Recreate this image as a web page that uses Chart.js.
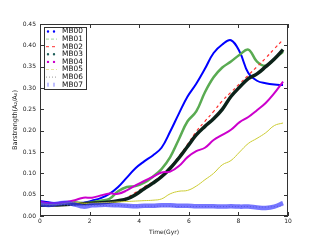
<!DOCTYPE html>
<html lang="en">
<head>
  <meta charset="UTF-8" />
  <title>Barstrength</title>
  <script src="https://cdn.jsdelivr.net/npm/chart.js"></script>
  <style>
    html, body { margin: 0; padding: 0; background: #fff; }
    #wrap { width: 320px; height: 240px; }
  </style>
</head>
<body>
  <div id="wrap"><canvas id="barChart" width="320" height="240"></canvas></div>

  <script>
    const time = [0, 0.35, 0.7, 1.05, 1.4, 1.75, 2.1, 2.45, 2.8, 3.15, 3.5, 3.85, 4.2, 4.55, 4.9,
                  5.25, 5.6, 5.95, 6.3, 6.65, 7.0, 7.35, 7.7, 8.05, 8.4, 8.75, 9.1, 9.45, 9.8];

    const mb00 = [0.035, 0.032, 0.030, 0.033, 0.030, 0.031, 0.036, 0.042, 0.052, 0.068, 0.090, 0.112, 0.128, 0.142, 0.160,
                  0.198, 0.240, 0.280, 0.310, 0.345, 0.382, 0.402, 0.412, 0.385, 0.335, 0.317, 0.311, 0.308, 0.307];
    const mb01 = [0.025, 0.026, 0.028, 0.030, 0.032, 0.030, 0.032, 0.036, 0.040, 0.058, 0.068, 0.070, 0.078, 0.092, 0.110,
                  0.138, 0.180, 0.222, 0.245, 0.290, 0.325, 0.348, 0.362, 0.378, 0.390, 0.362, 0.352, 0.368, 0.385];
    const mb02 = [0.025, 0.026, 0.027, 0.028, 0.027, 0.028, 0.029, 0.030, 0.032, 0.036, 0.043, 0.055, 0.068, 0.080, 0.095,
                  0.115, 0.140, 0.168, 0.198, 0.222, 0.245, 0.270, 0.290, 0.310, 0.330, 0.350, 0.370, 0.392, 0.413];
    const mb03 = [0.025, 0.025, 0.026, 0.027, 0.028, 0.029, 0.030, 0.031, 0.033, 0.036, 0.040, 0.050, 0.064, 0.077, 0.092,
                  0.112, 0.136, 0.163, 0.190, 0.210, 0.228, 0.250, 0.280, 0.302, 0.322, 0.333, 0.350, 0.368, 0.390];
    const mb04 = [0.033, 0.030, 0.030, 0.033, 0.037, 0.043, 0.043, 0.048, 0.053, 0.052, 0.060, 0.072, 0.082, 0.092, 0.102,
                  0.104, 0.117, 0.138, 0.152, 0.160, 0.178, 0.190, 0.202, 0.220, 0.232, 0.248, 0.265, 0.288, 0.315];
    const mb05 = [0.028, 0.027, 0.027, 0.030, 0.032, 0.030, 0.030, 0.031, 0.032, 0.033, 0.034, 0.035, 0.036, 0.037, 0.040,
                  0.052, 0.058, 0.060, 0.070, 0.085, 0.100, 0.120, 0.130, 0.150, 0.170, 0.182, 0.195, 0.212, 0.218];
    const mb06 = [0.027, 0.026, 0.027, 0.026, 0.025, 0.024, 0.025, 0.025, 0.024, 0.024, 0.024, 0.023, 0.023, 0.023, 0.023,
                  0.023, 0.022, 0.022, 0.022, 0.022, 0.022, 0.022, 0.022, 0.022, 0.022, 0.021, 0.021, 0.022, 0.024];
    const mb07 = [0.028, 0.026, 0.029, 0.031, 0.027, 0.022, 0.025, 0.026, 0.026, 0.025, 0.024, 0.023, 0.024, 0.024, 0.025,
                  0.025, 0.024, 0.024, 0.023, 0.023, 0.023, 0.022, 0.023, 0.022, 0.022, 0.020, 0.019, 0.022, 0.030];

    const xTicks = [0, 2, 4, 6, 8, 10];
    const yTicks = [0, 0.05, 0.1, 0.15, 0.2, 0.25, 0.3, 0.35, 0.4, 0.45];

    const FONT = 'DejaVu Sans';

    function pts(ys) {
      return ys.map((y, i) => ({ x: time[i], y }));
    }

    // legend samples: 'dots' = two markers, 'bars' = two ticks, otherwise a short line
    const datasets = [
      { label: 'MB00', data: pts(mb00), borderColor: '#0000ff', borderWidth: 2, order: 7, sample: 'dots' },
      { label: 'MB01', data: pts(mb01), borderColor: '#5aab52', borderWidth: 2.5, order: 6, sample: 'dash', sampleColor: '#9fd49a' },
      { label: 'MB02', data: pts(mb02), borderColor: '#ff3030', borderWidth: 1.2, order: 5, borderDash: [3, 3], sample: 'dash' },
      { label: 'MB03', data: pts(mb03), borderColor: '#0c2219', borderWidth: 3.5, order: 4, sample: 'dots', sampleColor: '#1f5f5a' },
      { label: 'MB04', data: pts(mb04), borderColor: '#cc00cc', borderWidth: 2, order: 3, sample: 'dots' },
      { label: 'MB05', data: pts(mb05), borderColor: '#cccc33', borderWidth: 1, order: 2, sample: 'dash', sampleColor: '#e6e6a0' },
      { label: 'MB06', data: pts(mb06), borderColor: '#999999', borderWidth: 1, order: 1, borderDash: [1, 2], sample: 'dash' },
      { label: 'MB07', data: pts(mb07), borderColor: 'rgba(60,60,255,0.7)', borderWidth: 4.5, order: 0, sample: 'bars', sampleColor: '#8080ff' }
    ];

    const frame = {
      id: 'frame',
      afterDraw(chart) {
        const { ctx, chartArea: a, scales } = chart;
        ctx.save();
        ctx.strokeStyle = '#333';
        ctx.lineWidth = 1;
        ctx.strokeRect(a.left + 0.5, a.top + 0.5, a.right - a.left - 1, a.bottom - a.top - 1);
        ctx.beginPath();
        xTicks.forEach(v => {
          const x = Math.round(scales.x.getPixelForValue(v)) + 0.5;
          ctx.moveTo(x, a.bottom); ctx.lineTo(x, a.bottom - 4);
          ctx.moveTo(x, a.top); ctx.lineTo(x, a.top + 4);
        });
        yTicks.forEach(v => {
          const y = Math.round(scales.y.getPixelForValue(v)) + 0.5;
          ctx.moveTo(a.left, y); ctx.lineTo(a.left + 4, y);
          ctx.moveTo(a.right, y); ctx.lineTo(a.right - 4, y);
        });
        ctx.stroke();

        // legend box, top-left inside the axes
        const bx = 44, by = 27, bw = 42, bh = 62, row = 7.6;
        ctx.fillStyle = '#fff';
        ctx.fillRect(bx, by, bw, bh);
        ctx.strokeStyle = '#333';
        ctx.strokeRect(bx + 0.5, by + 0.5, bw, bh);
        ctx.font = '7.4px "' + FONT + '"';
        ctx.textBaseline = 'middle';
        datasets.forEach((d, i) => {
          const y = by + 4.5 + i * row;
          const col = d.sampleColor || d.borderColor;
          ctx.fillStyle = col;
          ctx.strokeStyle = col;
          if (d.sample === 'dots') {
            ctx.beginPath(); ctx.arc(48, y, 1.2, 0, Math.PI * 2); ctx.arc(54, y, 1.2, 0, Math.PI * 2); ctx.fill();
          } else if (d.sample === 'bars') {
            ctx.fillRect(47.5, y - 2, 1, 4); ctx.fillRect(53.5, y - 2, 1, 4);
          } else {
            ctx.lineWidth = 1;
            ctx.setLineDash(d.borderDash && d.borderDash.length ? d.borderDash : [3, 2]);
            ctx.beginPath(); ctx.moveTo(46, y); ctx.lineTo(57, y); ctx.stroke();
            ctx.setLineDash([]);
          }
          ctx.fillStyle = '#111';
          ctx.fillText(d.label, 62, y);
        });
        ctx.restore();
      }
    };

    new Chart(document.getElementById('barChart'), {
      type: 'line',
      data: { datasets },
      options: {
        responsive: false,
        animation: false,
        layout: { padding: { top: 24, right: 32, left: 0, bottom: 0 } },
        elements: { point: { radius: 0 }, line: { tension: 0.4, fill: false } },
        plugins: { legend: { display: false }, tooltip: { enabled: false } },
        scales: {
          x: {
            type: 'linear', min: 0, max: 10,
            afterBuildTicks: s => { s.ticks = xTicks.map(v => ({ value: v })); },
            afterFit: s => { s.height = 24; },
            grid: { display: false, drawTicks: false },
            border: { display: false },
            ticks: { padding: 2, color: '#222', font: { family: FONT, size: 6 }, maxRotation: 0 },
            title: { display: true, text: 'Time(Gyr)', color: '#222', font: { family: FONT, size: 6 }, padding: { top: 0, bottom: 4 } }
          },
          y: {
            type: 'linear', min: 0, max: 0.45,
            afterBuildTicks: s => { s.ticks = yTicks.map(v => ({ value: v })); },
            afterFit: s => { s.width = 40; },
            grid: { display: false, drawTicks: false },
            border: { display: false },
            ticks: { padding: 4, color: '#222', font: { family: FONT, size: 6 }, callback: v => v.toFixed(2) },
            title: { display: true, text: 'Barstrength(A\u2082/A\u2080)', color: '#222', font: { family: FONT, size: 6.5 }, padding: { top: 11, bottom: 0 } }
          }
        }
      },
      plugins: [frame]
    });
  </script>
</body>
</html>
